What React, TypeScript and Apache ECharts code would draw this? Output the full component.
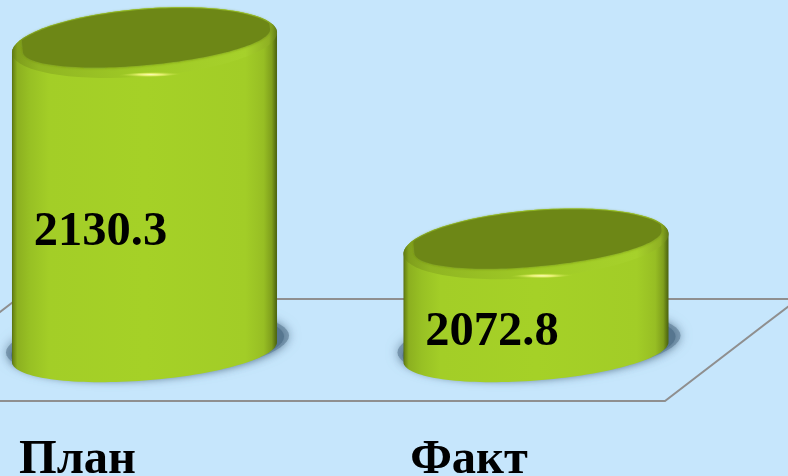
import React, { useEffect, useRef } from "react";
import * as echarts from "echarts";

const categories = ["План", "Факт"];
const values = [2130.3, 2072.8];
const AXIS_BASE = 2041.9;
const AXIS_MAX = 2140;

const BG = "#c6e6fc";
const FONT = '"Liberation Serif", "Times New Roman", serif';

function arc(cx: number, cy: number, rx: number, ry: number, s: number, t0: number, t1: number, n = 72) {
  const pts: number[][] = [];
  for (let i = 0; i <= n; i++) {
    const t = t0 + ((t1 - t0) * i) / n;
    pts.push([cx + rx * Math.cos(t), cy + ry * Math.sin(t) - s * rx * Math.cos(t)]);
  }
  return pts;
}

const hGrad = (stops: [number, string][]) => ({
  type: "linear",
  x: 0,
  y: 0,
  x2: 1,
  y2: 0,
  colorStops: stops.map(([offset, color]) => ({ offset, color })),
});

const bodyGrad = hGrad([
  [0, "#566f10"],
  [0.006, "#6d8a16"],
  [0.02, "#8cb020"],
  [0.07, "#98c124"],
  [0.14, "#a3ce27"],
  [0.5, "#a5d127"],
  [0.88, "#a2cd27"],
  [0.95, "#97be24"],
  [0.98, "#7f9f1c"],
  [0.995, "#566f12"],
  [1, "#4c6410"],
]);

function renderCylinder(_params: any, api: any) {
  const cat = api.value(0);
  const val = api.value(1);
  const top = api.coord([cat, val]);
  const base = api.coord([cat, AXIS_BASE]);
  const rx = (api.size([1, 0])[0] * 0.677) / 2;
  const cx = top[0];
  const k = rx / 132.5;
  const s = 0.075;
  const PI = Math.PI;

  const shadowOuter = arc(cx + 3, base[1] - 8, rx + 9, 33, 0.06, 0, 2 * PI);
  const shadowInner = arc(cx + 3, base[1] - 6, rx + 4, 32, 0.07, 0, 2 * PI);
  const silhouette = [
    ...arc(cx, top[1], rx, 34, s, PI, 2 * PI),
    ...arc(cx, base[1], rx, 28.5, s, 0, PI),
  ];
  const shoulder = arc(cx, top[1], rx, 34, s, 0, 2 * PI);
  const cap = [
    ...arc(cx + 2, top[1] - 2, rx - 9 * k, 24.5, 0.09, 0, PI),
    ...arc(cx, top[1], rx - 2, 33, s, PI + 0.35, 2 * PI - 0.3),
  ];
  const highlight = arc(cx + 6, top[1] + 32, 34, 2.4, 0.05, 0, 2 * PI, 36);
  const midY = (top[1] + base[1]) / 2;

  return {
    type: "group",
    children: [
      {
        type: "polygon",
        shape: { points: shadowOuter },
        style: { fill: "#6f8ea6", opacity: 0.8, shadowBlur: 12, shadowColor: "#6f8ea6" },
      },
      {
        type: "polygon",
        shape: { points: shadowInner },
        style: { fill: "#56768f", shadowBlur: 8, shadowColor: "#56768f" },
      },
      { type: "polygon", shape: { points: silhouette }, style: { fill: bodyGrad } },
      {
        type: "polygon",
        shape: { points: shoulder },
        style: {
          fill: hGrad([
            [0, "#5f7a12"],
            [0.02, "#7f9e1c"],
            [0.1, "#90b522"],
            [0.5, "#a0cb26"],
            [0.88, "#a6d12b"],
            [0.97, "#8fb023"],
            [1, "#5f7a14"],
          ]),
        },
      },
      {
        type: "polygon",
        shape: { points: cap },
        style: { fill: "#6d8719", shadowBlur: 3, shadowColor: "#6d8719" },
      },
      {
        type: "polygon",
        shape: { points: highlight },
        style: {
          fill: {
            type: "radial",
            x: 0.5,
            y: 0.5,
            r: 0.5,
            colorStops: [
              { offset: 0, color: "#fbfcb8" },
              { offset: 0.35, color: "#e6f070" },
              { offset: 1, color: "rgba(165,209,39,0)" },
            ],
          },
        },
      },
      {
        type: "text",
        style: {
          text: val.toFixed(1),
          x: cx - 44,
          y: midY + 31,
          align: "center",
          verticalAlign: "middle",
          fill: "#000",
          font: `bold 48.5px ${FONT}`,
        },
      },
    ],
  };
}

export default function App() {
  const ref = useRef<HTMLDivElement>(null);
  useEffect(() => {
    document.body.style.margin = "0";
    document.body.style.background = BG;
    const chart = echarts.init(ref.current!, undefined, { renderer: "svg" });
    chart.setOption({
      animation: false,
      backgroundColor: BG,
      grid: { left: -51.25, width: 783, top: 8.65, height: 343.35, outerBoundsMode: "none", containLabel: false },
      xAxis: {
        type: "category",
        data: categories,
        axisLine: { show: false },
        axisTick: { show: false },
        axisLabel: {
          interval: 0,
          margin: 84,
          color: "#000",
          fontFamily: FONT,
          fontWeight: "bold",
          fontSize: 48.5,
          lineHeight: 40,
          padding: [0, 134, 0, 0],
        },
      },
      yAxis: {
        type: "value",
        min: AXIS_BASE,
        max: AXIS_MAX,
        show: false,
      },
      graphic: [
        {
          type: "polygon",
          shape: {
            points: [
              [17, 299],
              [798, 299],
              [665, 401],
              [-116, 401],
            ],
          },
          style: { fill: "transparent", stroke: "#8f8f8f", lineWidth: 2 },
        },
      ],
      series: [
        {
          type: "custom",
          renderItem: renderCylinder,
          clip: false,
          silent: true,
          data: values.map((v, i) => [i, v]),
          encode: { x: 0, y: 1 },
        },
      ],
    });
    return () => chart.dispose();
  }, []);
  return <div ref={ref} style={{ width: 788, height: 476, overflow: "hidden" }} />;
}
